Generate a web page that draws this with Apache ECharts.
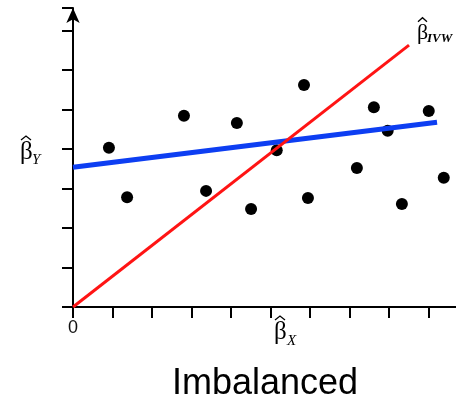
<!DOCTYPE html>
<html><head><meta charset="utf-8">
<script src="https://cdn.jsdelivr.net/npm/echarts@6/dist/echarts.min.js"></script>
<style>html,body{margin:0;padding:0;background:#fff}#c{width:456px;height:399px}</style>
</head><body><div id="c"></div>
<script>
// Scatter points (x, y) in axis units
const pointsX = [0.91, 1.37, 2.81, 3.37, 4.15, 4.51, 5.16, 5.85, 5.95, 7.19, 7.62, 7.97, 8.33, 9.01, 9.39];
const pointsY = [4.03, 2.78, 4.84, 2.94, 4.66, 2.48, 3.97, 5.62, 2.76, 3.52, 5.06, 4.46, 2.61, 4.96, 3.27];
// Fitted lines: endpoints
const ivwLineX = [0, 8.51];
const ivwLineY = [0, 6.63];
const egLineX = [0, 9.22];
const egLineY = [3.54, 4.68];
const xTickLabels = ['0', '', '', '', '', '', '', '', '', ''];
const title = 'Imbalanced';

const chart = echarts.init(document.getElementById('c'), null, {renderer: 'canvas'});
const zip = (a, b) => a.map((v, i) => [v, b[i]]);
const serif = '"Liberation Serif","DejaVu Serif",serif';
// beta-hat label: (x, y) = top-left of beta text box
function betaLabel(x, y, size, hatW, hatGap, sub, subFont, subX, subY) {
  const gx = x + 1, gtop = y + size * 0.12;
  return [
    {type: 'text', x: x, y: y, style: {text: 'β', font: size + 'px ' + serif, fill: '#000'}},
    {type: 'polyline', shape: {points: [[gx, gtop - hatGap], [gx + hatW / 2, gtop - hatGap - 4], [gx + hatW, gtop - hatGap]]},
      style: {stroke: '#000', lineWidth: 1.3, fill: null}},
    {type: 'text', x: subX, y: subY, style: {text: sub, font: subFont + ' ' + serif, fill: '#000'}}
  ];
}
chart.setOption({
  animation: false,
  backgroundColor: '#fff',
  grid: {left: 73, top: 8, right: 0, bottom: 92, containLabel: false},
  xAxis: {
    type: 'value', min: 0, max: 9.7, interval: 1,
    splitLine: {show: false},
    axisLine: {onZero: false, lineStyle: {color: '#000', width: 2}},
    axisTick: {show: true, length: 11, lineStyle: {color: '#000', width: 2}},
    axisLabel: {
      margin: 12, fontSize: 18, color: '#111', fontFamily: '"Liberation Sans",Arial,sans-serif',
      showMaxLabel: false,
      formatter: v => { const i = Math.round(v); return (Math.abs(v - i) < 1e-6 && xTickLabels[i] !== undefined) ? xTickLabels[i] : ''; }
    }
  },
  yAxis: {
    type: 'value', min: 0, max: 7.57, interval: 1,
    splitLine: {show: false},
    axisLine: {onZero: false, lineStyle: {color: '#000', width: 2}, symbol: ['none', 'arrow'], symbolSize: [10, 15], symbolOffset: [0, 0]},
    axisTick: {show: true, length: 11, lineStyle: {color: '#000', width: 2}},
    axisLabel: {show: false}
  },
  series: [
    {type: 'scatter', data: zip(pointsX, pointsY), symbolSize: 12, itemStyle: {color: '#000', opacity: 1}, z: 2},
    {type: 'line', data: zip(egLineX, egLineY), symbol: 'none', lineStyle: {color: '#0d3ef2', width: 5}, z: 3},
    {type: 'line', data: zip(ivwLineX, ivwLineY), symbol: 'none', lineStyle: {color: '#ff1414', width: 3}, z: 4}
  ],
  graphic: [].concat(
    betaLabel(20, 140, 25, 10, 3, 'Y', 'italic 15px', 32, 153),
    betaLabel(274, 320, 25, 10, 3, 'X', 'italic 15px', 287, 334),
    betaLabel(417, 22, 22, 9, 3, 'IVW', 'italic bold 13px', 427, 32),
    [{type: 'text', x: 172, y: 366, style: {text: title, font: '36px "Liberation Sans",Arial,sans-serif', fill: '#000'}}]
  )
});
</script></body></html>
